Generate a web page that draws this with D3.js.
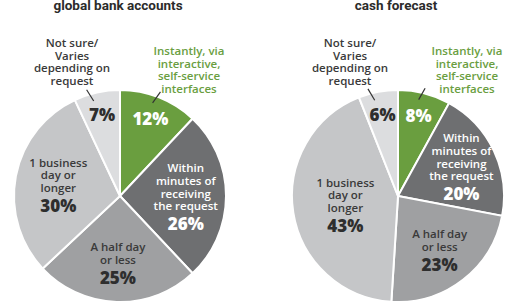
<!DOCTYPE html>
<html>
<head>
<meta charset="utf-8">
<script src="https://cdn.jsdelivr.net/npm/d3@7"></script>
<style>
  body { margin: 0; background: #fff; }
  svg { display: block; }
</style>
</head>
<body>
<div id="chart"></div>
<script>
var svgWidth = 506;
var svgHeight = 308;

// categories, clockwise from 12 o'clock
var categories = [
  ["Instantly, via", "interactive,", "self-service", "interfaces"],
  ["Within", "minutes of", "receiving", "the request"],
  ["A half day", "or less"],
  ["1 business", "day or", "longer"],
  ["Not sure/", "Varies", "depending on", "request"]
];
var titles = ["global bank accounts", "cash forecast"];
var bankValues = [12, 26, 25, 30, 7];
var forecastValues = [8, 20, 23, 43, 6];

var sliceColors = ["#6a9e3f", "#6e6f71", "#9fa0a2", "#c5c6c8", "#dcdddf"];
var pctColors = ["#fff", "#fff", "#2e2e2e", "#2e2e2e", "#2e2e2e"];
var textColors = ["#6a9e3f", "#fff", "#3a3a3a", "#3a3a3a", "#3a3a3a"];
// where the text goes: inside the slice or above the pie with a leader
var outside = [true, false, false, false, true];

var svg = d3.select("#chart")
  .append("svg")
  .attr("width", svgWidth)
  .attr("height", svgHeight);

var radius = 106;
var centers = [[120, 196], [398, 196]];

var pie = d3.pie().sort(null).value(d => d);
var arc = d3.arc().innerRadius(0).outerRadius(radius);

var lineH = 12.8;
var pctGap = 18;
var labelFont = "'Open Sans', 'Noto Sans', sans-serif";

function drawPie(values, idx) {
  var cx = centers[idx][0], cy = centers[idx][1];
  var g = svg.append("g").attr("transform", "translate(" + cx + "," + cy + ")");

  svg.append("text")
    .attr("x", cx - 2)
    .attr("y", 10)
    .attr("text-anchor", "middle")
    .attr("font-family", "'Liberation Sans Narrow', 'Roboto', sans-serif")
    .attr("font-weight", "bold")
    .attr("font-size", 13.5)
    .attr("fill", "#2b2b2b")
    .text(titles[idx]);

  var arcs = pie(values);

  g.selectAll("path.slice")
    .data(arcs)
    .enter().append("path")
    .attr("class", "slice")
    .attr("d", arc)
    .attr("fill", (d, i) => sliceColors[i])
    .attr("stroke", "#fff")
    .attr("stroke-width", 2);

  arcs.forEach(function(d, i) {
    var mid = (d.startAngle + d.endAngle) / 2;
    var sx = Math.sin(mid), sy = -Math.cos(mid);
    var lines = categories[i];

    if (outside[i]) {
      // percentage inside slice near rim
      var pr = radius * 0.78;
      g.append("text")
        .attr("x", sx * pr)
        .attr("y", sy * pr)
        .attr("dy", "0.36em")
        .attr("text-anchor", "middle")
        .attr("font-family", labelFont)
        .attr("font-weight", 800)
        .attr("font-size", 17)
        .attr("fill", pctColors[i])
        .text(d.data + "%");

      // leader line
      var r1 = radius * 0.93, r2 = radius * 1.04;
      var ang = mid + (i === 0 ? -0.04 : -0.05);
      g.append("line")
        .attr("x1", Math.sin(ang) * r1)
        .attr("y1", -Math.cos(ang) * r1)
        .attr("x2", Math.sin(ang) * r2 + (i === 0 ? 4 : -4))
        .attr("y2", -Math.cos(ang) * r2)
        .attr("stroke", "#333")
        .attr("stroke-width", 1.2);

      // text block above the pie
      var bx = i === 0 ? 69 : -48;
      var lastY = i === 0 ? -107 : -115;
      var t = g.append("text")
        .attr("text-anchor", "middle")
        .attr("font-family", labelFont)
        .attr("font-weight", 600)
        .attr("font-size", 11.5)
        .attr("fill", textColors[i]);
      lines.forEach(function(s, k) {
        t.append("tspan")
          .attr("x", bx)
          .attr("y", lastY - (lines.length - 1 - k) * lineH)
          .attr("dy", "0.36em")
          .text(s);
      });
    } else {
      // smaller slices push the text further out
      var span = d.endAngle - d.startAngle;
      var lr = radius * (0.80 - 0.11 * span);
      var px = sx * lr, py = sy * lr;
      var n = lines.length;
      var blockH = (n - 1) * lineH + pctGap;
      var top = py - blockH / 2;
      var t = g.append("text")
        .attr("text-anchor", "middle")
        .attr("font-family", labelFont)
        .attr("fill", textColors[i]);
      lines.forEach(function(s, k) {
        t.append("tspan")
          .attr("x", px)
          .attr("y", top + k * lineH)
          .attr("dy", "0.36em")
          .attr("font-weight", 600)
          .attr("font-size", 11.5)
          .text(s);
      });
      t.append("tspan")
        .attr("x", px)
        .attr("y", top + (n - 1) * lineH + pctGap)
        .attr("dy", "0.36em")
        .attr("font-weight", 800)
        .attr("font-size", 17)
        .attr("fill", pctColors[i])
        .text(d.data + "%");
    }
  });
}

drawPie(bankValues, 0);
drawPie(forecastValues, 1);
</script>
</body>
</html>
